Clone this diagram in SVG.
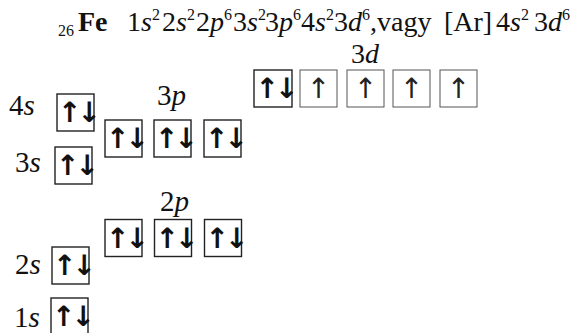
<svg xmlns="http://www.w3.org/2000/svg" width="586" height="333" viewBox="0 0 586 333">
<style>
.t{font-family:"Liberation Serif","DejaVu Serif",serif;font-size:29px;fill:#111}
.h{font-size:28px}
.i{font-style:italic}
.sup{font-size:16px}
.b{font-weight:bold}
.box{fill:#fff;stroke:#222;stroke-width:1.4}
.box2{fill:#fff;stroke:#555;stroke-width:1}
.ar{font-family:"DejaVu Sans",sans-serif;font-size:28px;font-weight:bold;letter-spacing:-4px;fill:#111;text-anchor:middle;dominant-baseline:central}
.ar1{font-family:"DejaVu Sans",sans-serif;font-size:28px;fill:#222;text-anchor:middle;dominant-baseline:central}
</style>
<rect width="586" height="333" fill="#fff"/>
<g id="title">
<text class="t h"><tspan class="sup" x="58" y="36">26</tspan><tspan class="b" x="78" y="31">Fe</tspan><tspan x="127" y="31">1</tspan><tspan class="i">s</tspan><tspan class="sup" y="20">2</tspan><tspan x="162" y="31">2</tspan><tspan class="i">s</tspan><tspan class="sup" y="20">2</tspan><tspan x="196" y="31">2</tspan><tspan class="i">p</tspan><tspan class="sup" y="20">6</tspan><tspan x="233" y="31">3</tspan><tspan class="i">s</tspan><tspan class="sup" y="20">2</tspan><tspan x="265" y="31">3</tspan><tspan class="i">p</tspan><tspan class="sup" y="20">6</tspan><tspan x="301" y="31">4</tspan><tspan class="i">s</tspan><tspan class="sup" y="20">2</tspan><tspan x="334" y="31">3</tspan><tspan class="i">d</tspan><tspan class="sup" y="20">6</tspan><tspan y="31">,vagy</tspan><tspan x="444" y="31">[Ar]</tspan><tspan x="496" y="31">4</tspan><tspan class="i">s</tspan><tspan class="sup" y="20">2</tspan><tspan x="534" y="31">3</tspan><tspan class="i">d</tspan><tspan class="sup" y="20">6</tspan></text>
</g>
<g id="labels">
<text class="t" x="9" y="115">4<tspan class="i">s</tspan></text>
<text class="t" x="15" y="172">3<tspan class="i">s</tspan></text>
<text class="t" x="157" y="105">3<tspan class="i">p</tspan></text>
<text class="t h" x="351" y="63">3<tspan class="i">d</tspan></text>
<text class="t" x="160" y="211">2<tspan class="i">p</tspan></text>
<text class="t" x="15" y="274">2<tspan class="i">s</tspan></text>
<text class="t" x="14" y="327">1<tspan class="i">s</tspan></text>
</g>
<g id="orb-4s"><rect class="box" x="57" y="94" width="37" height="37"/><text class="ar" x="77.5" y="112.5">↑↓</text></g>
<g id="orb-3s"><rect class="box" x="55" y="147" width="37" height="37"/><text class="ar" x="75.5" y="165.5">↑↓</text></g>
<g id="orb-3p"><rect class="box" x="105" y="120" width="37" height="37"/><text class="ar" x="125.5" y="138.5">↑↓</text><rect class="box" x="154" y="120" width="37" height="37"/><text class="ar" x="174.5" y="138.5">↑↓</text><rect class="box" x="204" y="120" width="37" height="37"/><text class="ar" x="224.5" y="138.5">↑↓</text></g>
<g id="orb-3d"><rect class="box" x="254" y="70" width="38" height="37"/><text class="ar" x="275" y="88.5">↑↓</text><rect class="box2" x="300" y="70" width="37" height="37"/><text class="ar1" x="318.5" y="88.5">↑</text><rect class="box2" x="347" y="70" width="37" height="37"/><text class="ar1" x="365.5" y="88.5">↑</text><rect class="box2" x="393" y="70" width="37" height="37"/><text class="ar1" x="411.5" y="88.5">↑</text><rect class="box2" x="440" y="70" width="37" height="37"/><text class="ar1" x="458.5" y="88.5">↑</text></g>
<g id="orb-2p"><rect class="box" x="105" y="219.5" width="37" height="37"/><text class="ar" x="125.5" y="238">↑↓</text><rect class="box" x="154.5" y="219.5" width="37" height="37"/><text class="ar" x="175" y="238">↑↓</text><rect class="box" x="204.5" y="219.5" width="37" height="37"/><text class="ar" x="225" y="238">↑↓</text></g>
<g id="orb-2s"><rect class="box" x="52" y="247" width="37" height="37"/><text class="ar" x="72.5" y="265.5">↑↓</text></g>
<g id="orb-1s"><rect class="box" x="51" y="298" width="37" height="37"/><text class="ar" x="71.5" y="316.5">↑↓</text></g>
<g id="connectors"/>
</svg>
